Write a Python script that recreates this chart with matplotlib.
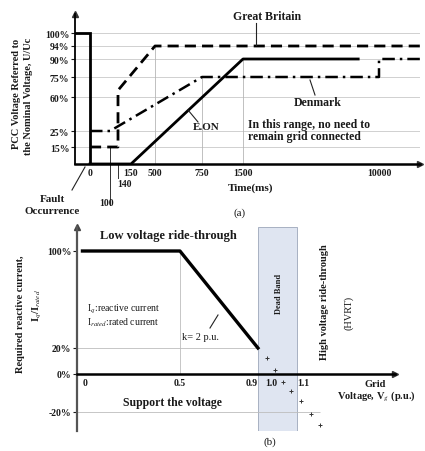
import numpy as np
import matplotlib
matplotlib.use('Agg')
import matplotlib.pyplot as plt
import matplotlib.transforms as mtransforms

# ---------------- data: panel (a) ----------------
FAULT_T = [-120, 0, 0]
FAULT_U = [100, 100, 0]
GB_T = [0, 140, 140, 500, 15000]
GB_U = [15, 15, 65, 94, 94]
DK_T = [0, 100, 750, 10000, 10000, 15000]
DK_U = [25, 25, 75, 75, 90, 90]
EON_T = [0, 150, 1500, 8700]
EON_U = [0, 0, 90, 90]
A_YTICKS = [15, 25, 60, 75, 90, 94, 100]
A_YLABELS = ['15%', '25%', '60%', '75%', '90%', '94%', '100%']
A_XTICKS = [0, 150, 500, 750, 1500, 10000]
A_XLABELS = ['0', '150', '500', '750', '1500', '10000']
A_VGRID_T = [500, 750, 1500]
A_VGRID_TOP = [94, 75, 90]

# ---------------- data: panel (b) ----------------
B_V = [0, 0.5, 0.9]
B_I = [100, 100, 20]
B_DOT_V = [0.945, 0.99, 1.03, 1.07, 1.12, 1.17, 1.22]
B_DOT_I = [12, 3, -4, -9, -14, -21, -27]
B_YTICKS = [-20, 0, 20, 100]
B_YLABELS = ['-20%', '0%', '20%', '100%']
B_XTICKS = [0, 0.5, 0.9, 1.0, 1.1]
B_XLABELS = ['0', '0.5', '0.9', '1.0', '1.1']
DEAD_BAND = [0.9, 1.1]

# ---------------- schematic (non-linear) scales ----------------
W, H = 425, 452
A_T_KNOTS = [-120, 0, 100, 140, 150, 500, 750, 1500, 10000, 15000]
A_T_PX = [75, 90, 110, 118, 131, 155, 202, 243, 379, 420]
A_U_KNOTS = [0, 15, 25, 60, 75, 90, 94, 100, 115]
A_U_PX = [165, 148, 132, 98, 78, 60, 47, 34, 15]
B_I_KNOTS = [-30, -20, 0, 20, 100, 120]
B_I_PX = [432, 413, 375, 349, 252, 228]


def interp_scale(knots, px, flip=False):
    k = np.asarray(knots, float)
    p = np.asarray(px, float)
    if flip:
        p = H - p
    return (lambda x: np.interp(x, k, p), lambda y: np.interp(y, p, k))


plt.rcParams['font.family'] = ['Liberation Serif', 'DejaVu Serif']
plt.rcParams['mathtext.fontset'] = 'stix'
TXT = '#1a1a1a'

fig = plt.figure(figsize=(W / 100, H / 100), dpi=100)
PX = mtransforms.Affine2D().scale(1 / W, -1 / H).translate(0, 1) + fig.transFigure


def ftext(x, y, s, fs=8, bold=True, **kw):
    kw.setdefault('ha', 'center')
    kw.setdefault('va', 'center')
    fig.text(x, y, s, transform=PX, fontsize=fs,
             fontweight='bold' if bold else 'normal', color=TXT, **kw)


def leader(x0, y0, x1, y1, lw=0.8):
    fig.add_artist(plt.Line2D([x0, x1], [y0, y1], transform=PX, color='#222', lw=lw))


# ================= panel (a) =================
axa = fig.add_axes([75 / W, (H - 165) / H, (420 - 75) / W, 150 / H])
axa.set_xscale('function', functions=interp_scale(A_T_KNOTS, A_T_PX))
axa.set_yscale('function', functions=interp_scale(A_U_KNOTS, A_U_PX, flip=True))
axa.set_xlim(A_T_KNOTS[0], A_T_KNOTS[-1])
axa.set_ylim(A_U_KNOTS[0], A_U_KNOTS[-1])

for u in A_YTICKS:
    axa.axhline(u, color='#c9c9c9', lw=0.6, zorder=1)
axa.vlines(A_VGRID_T, 0, A_VGRID_TOP, color='#b5b5b5', lw=0.6, zorder=1)
# leaders for the 100 and 140 ms marks, below the axis
bt = axa.get_xaxis_transform()
axa.plot([100, 100], [0.113, -0.27], transform=bt, color='#333', lw=0.7, clip_on=False)
axa.plot([140, 140], [0.0, -0.09], transform=bt, color='#333', lw=0.7, clip_on=False)

axa.plot(FAULT_T, FAULT_U, color='k', lw=2.0, zorder=4, solid_joinstyle='miter')
axa.plot(GB_T, GB_U, color='k', lw=2.0, ls=(0, (4, 2.2)), zorder=4)
axa.plot(DK_T, DK_U, color='k', lw=1.8, ls=(0, (5, 2, 1, 2)), zorder=4)
axa.plot(EON_T, EON_U, color='k', lw=2.0, zorder=4)

for s in ['top', 'right']:
    axa.spines[s].set_visible(False)
axa.spines['left'].set_linewidth(1.3)
axa.spines['bottom'].set_linewidth(1.8)
axa.plot(0, 1, '^', transform=axa.transAxes, clip_on=False, ms=4, color='#333')
axa.plot(1, 0, '>', transform=axa.transAxes, clip_on=False, ms=4, color='#333')

axa.set_yticks(A_YTICKS, A_YLABELS)
axa.set_xticks(A_XTICKS, A_XLABELS)
axa.tick_params(axis='y', length=3, width=0.8, pad=1, labelsize=7, colors=TXT)
axa.tick_params(axis='x', length=0, pad=3, labelsize=7, colors=TXT)
for lab in axa.get_xticklabels() + axa.get_yticklabels():
    lab.set_fontweight('bold')
axa.minorticks_off()

ftext(124, 185, '140', fs=7)
ftext(107, 204, '100', fs=7)
ftext(52, 200, 'Fault', fs=8)
ftext(52, 212, 'Occurrence', fs=8)
leader(72, 191, 85, 168)
ftext(251, 188, 'Time(ms)', fs=8)
ftext(240, 213, '(a)', fs=8, bold=False)
ftext(267, 17, 'Great Britain', fs=8.5)
leader(256, 24, 256, 46)
ftext(318, 103, 'Denmark', fs=8.5)
leader(310, 81, 315, 96)
ftext(206, 128, 'E.ON', fs=8)
leader(188, 111, 198, 123)
ftext(248, 125, 'In this range, no need to', fs=8.5, ha='left')
ftext(248, 137, 'remain grid connected', fs=8.5, ha='left')
ftext(17, 94, 'PCC Voltage Referred to', fs=7.5, rotation=90)
ftext(29, 96, 'the Nominal Voltage, U/Uc', fs=7.5, rotation=90)

# ================= panel (b) =================
axb = fig.add_axes([77 / W, (H - 432) / H, (395 - 77) / W, 204 / H])
axb.set_yscale('function', functions=interp_scale(B_I_KNOTS, B_I_PX, flip=True))
axb.set_ylim(B_I_KNOTS[0], B_I_KNOTS[-1])
axb.set_xlim(-0.028, 1.603)

axb.axvspan(DEAD_BAND[0], DEAD_BAND[1], fc='#dfe5f1', ec='#a7b0c2', lw=0.7, zorder=0)
axb.hlines(20, -0.028, B_V[-1], color='#bdbdbd', lw=0.6, zorder=1)
axb.hlines(-20, -0.028, B_DOT_V[-1], color='#bdbdbd', lw=0.6, zorder=1)
axb.vlines(B_V[1], 0, B_I[1], color='#bdbdbd', lw=0.6, zorder=1)

axb.plot(B_V, B_I, color='k', lw=2.4, zorder=4)
axb.plot(B_DOT_V, B_DOT_I, ls='none', marker='+', ms=3, mew=0.7, color='#333', zorder=4)

for s in ['top', 'right']:
    axb.spines[s].set_visible(False)
axb.spines['bottom'].set_position(('data', 0))
axb.spines['bottom'].set_linewidth(1.8)
axb.spines['left'].set_linewidth(1.6)
axb.spines['left'].set_color('#555')
axb.plot(0, 1, '^', transform=axb.transAxes, clip_on=False, ms=4, color='#444')
axb.plot(1, 0, '>', transform=axb.get_yaxis_transform(), clip_on=False, ms=4, color='#333')

axb.set_yticks(B_YTICKS, B_YLABELS)
axb.set_xticks(B_XTICKS, B_XLABELS)
axb.tick_params(axis='y', length=3, width=0.8, pad=1, labelsize=7, colors=TXT)
axb.tick_params(axis='x', length=0, pad=3, labelsize=7, colors=TXT)
axb.minorticks_off()
xl = axb.get_xticklabels()
for lab in xl + axb.get_yticklabels():
    lab.set_fontweight('bold')
xl[0].set_ha('left')
xl[2].set_ha('right')
xl[3].set_ha('right')
xl[4].set_ha('left')

ftext(100, 236, 'Low voltage ride-through', fs=9, ha='left')
ftext(87, 309, r'I$_q$:reactive current', fs=7, bold=False, ha='left')
ftext(87, 323, r'I$_{rated}$:rated current', fs=7, bold=False, ha='left')
ftext(182, 338, 'k= 2 p.u.', fs=7.5, ha='left', bold=False)
leader(210, 329, 218, 316)
ftext(279, 294, 'Dead Band', fs=6, rotation=90)
ftext(325, 302, 'High voltage ride-through', fs=7.5, rotation=90)
ftext(349, 313, '(HVRT)', fs=7.5, rotation=90, bold=False)
ftext(375, 385, 'Grid', fs=7.5)
ftext(376, 396, r'Voltage, V$_g$ (p.u.)', fs=7.5)
ftext(172, 403, 'Support the voltage', fs=8.5)
ftext(270, 442, '(b)', fs=8, bold=False)
ftext(21, 314, 'Required reactive current,', fs=7.5, rotation=90)
ftext(37, 306, r'I$_q$/I$_{rated}$', fs=7.5, rotation=90)

fig.savefig('out.png', dpi=100)
